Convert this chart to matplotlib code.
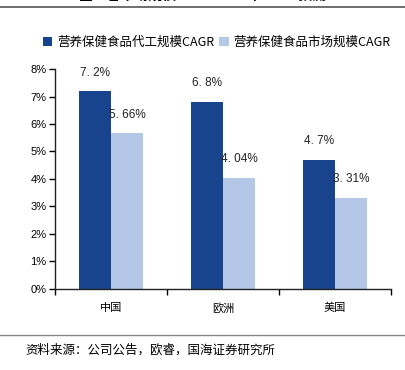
import matplotlib.pyplot as plt
import matplotlib.lines as mlines
import numpy as np

plt.rcParams['font.family'] = ['Noto Sans CJK SC', 'DejaVu Sans']

# データ
regions = ['中国', '欧洲', '美国']
oem_cagr = [7.2, 6.8, 4.7]        # 营养保健食品代工规模CAGR
market_cagr = [5.66, 4.04, 3.31]  # 营养保健食品市场规模CAGR
oem_labels = ['7. 2%', '6. 8%', '4. 7%']
market_labels = ['5. 66%', '4. 04%', '3. 31%']
yticks = [0, 1, 2, 3, 4, 5, 6, 7, 8]

dark = '#17448c'
light = '#b4c7e7'

fig = plt.figure(figsize=(4.06, 3.70), dpi=100)
ax = fig.add_axes([0.1355, 0.219, 0.8275, 0.5945])

x = np.arange(1, len(regions) + 1)
w = 0.285
b1 = ax.bar(x - w / 2, oem_cagr, w, color=dark, label='营养保健食品代工规模CAGR')
b2 = ax.bar(x + w / 2, market_cagr, w, color=light, label='营养保健食品市场规模CAGR')

# 値ラベル
for xi, v, s in zip(x - w / 2, oem_cagr, oem_labels):
    ax.annotate(s, (xi, v), xytext=(0, 9), textcoords='offset points',
                ha='center', va='bottom', fontsize=8.5, family='Liberation Sans', color='#222222')
for xi, v, s in zip(x + w / 2, market_cagr, market_labels):
    ax.annotate(s, (xi, v), xytext=(0, 9), textcoords='offset points',
                ha='center', va='bottom', fontsize=8.5, family='Liberation Sans', color='#222222')

ax.set_xlim(0.5, 3.5)
ax.set_ylim(0, 8)
ax.set_yticks(yticks)
ax.set_yticklabels([f'{t}%' for t in yticks], family='Liberation Sans', fontsize=8)
ax.set_xticks([0.5, 1.5, 2.5, 3.5])
ax.set_xticklabels([])
ax.set_xticks(x, minor=True)
ax.set_xticklabels(regions, minor=True, fontsize=8)
ax.tick_params(axis='x', which='minor', length=0, pad=10)
ax.tick_params(axis='x', which='major', length=4, width=1, direction='out')
ax.tick_params(axis='y', length=4, width=1, pad=2)
for sp in ['top', 'right']:
    ax.spines[sp].set_visible(False)
for sp in ['left', 'bottom']:
    ax.spines[sp].set_linewidth(1)
    ax.spines[sp].set_color('#222222')

fig.legend(handles=[b1, b2], loc='center left', bbox_to_anchor=(0.105, 0.886),
           ncol=2, frameon=False, fontsize=9, handlelength=0.75, handleheight=0.75,
           handletextpad=0.4, columnspacing=0.4, borderaxespad=0, borderpad=0)

# 上部の切れたタイトルと区切り線
fig.text(0.5, 1.0 + 4 / 370, '图：各市场规模2020-2025年CAGR预测', ha='center', va='center',
         fontsize=10, fontweight='bold')
fig.add_artist(mlines.Line2D([0, 1], [1 - 7 / 370, 1 - 7 / 370], color='#555555', lw=1.2))
fig.add_artist(mlines.Line2D([0, 1], [1 - 335 / 370, 1 - 335 / 370], color='#888888', lw=1))
fig.text(25 / 406, 1 - 350 / 370, '资料来源：公司公告，欧睿，国海证券研究所', ha='left', va='center',
         fontsize=9)

fig.savefig('out.png', dpi=100)
